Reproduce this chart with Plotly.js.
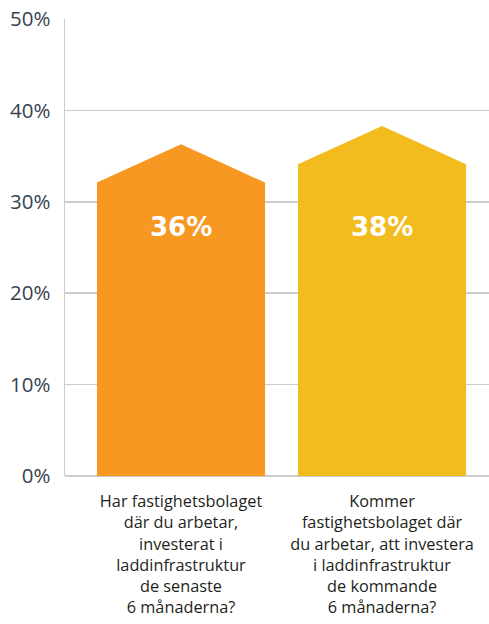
<!DOCTYPE html>
<html>
<head>
<meta charset="utf-8">
<script src="https://cdn.plot.ly/plotly-3.0.1.min.js"></script>
<style>html,body{margin:0;padding:0;background:#fff;}#chart{width:489px;height:624px;}</style>
</head>
<body>
<div id="chart"></div>
<script>
const categories = [
  "Har fastighetsbolaget<br>där du arbetar,<br>investerat i<br>laddinfrastruktur<br>de senaste<br>6 månaderna?",
  "Kommer<br>fastighetsbolaget där<br>du arbetar, att investera<br>i laddinfrastruktur<br>de kommande<br>6 månaderna?"
];
const values = [36, 38];
const colors = ["#F79823", "#F2BC1E"];
const yTickVals = [0, 10, 20, 30, 40, 50];
const yTickText = ["0%", "10%", "20%", "30%", "40%", "50%"];

const halfWidth = 0.418;   // bar half-width in category units
const roof = 3.9;          // roof height in axis units
const labelY = 27.2;       // vertical position of the value labels

const traces = values.map((v, i) => ({
  type: "scatter",
  mode: "lines",
  x: [i - halfWidth, i - halfWidth, i, i + halfWidth, i + halfWidth, i - halfWidth],
  y: [0, v - roof, v + 0.3, v - roof, 0, 0],
  fill: "toself",
  fillcolor: colors[i],
  line: {width: 0, color: colors[i]},
  hoverinfo: "skip",
  showlegend: false
}));

const annotations = values.map((v, i) => ({
  x: i, y: labelY, xref: "x", yref: "y",
  text: "<b>" + v + "%</b>",
  showarrow: false,
  font: {family: "DejaVu Sans", size: 26, color: "#ffffff"}
}));

const layout = {
  width: 489, height: 624,
  margin: {l: 65, r: 0, t: 19, b: 148},
  paper_bgcolor: "#ffffff",
  plot_bgcolor: "#ffffff",
  showlegend: false,
  xaxis: {
    range: [-0.577, 1.532],
    tickvals: categories.map((c, i) => i),
    ticktext: categories,
    showgrid: false,
    zeroline: false,
    showline: false,
    ticks: "",
    ticklabelstandoff: 14,
    tickfont: {family: "Open Sans", size: 16.3, color: "#231f20"},
    fixedrange: true
  },
  yaxis: {
    range: [0, 50],
    tickvals: yTickVals,
    ticktext: yTickText,
    showgrid: true,
    gridcolor: "#cccccc",
    gridwidth: 1.5,
    zeroline: true,
    zerolinecolor: "#cccccc",
    zerolinewidth: 1.5,
    showline: true,
    linecolor: "#cccccc",
    linewidth: 1.5,
    ticks: "",
    ticklabelstandoff: 9,
    tickfont: {family: "Open Sans", size: 20.5, color: "#37424f"},
    fixedrange: true
  },
  annotations: annotations
};

Plotly.newPlot("chart", traces, layout, {displayModeBar: false, staticPlot: true});
</script>
</body>
</html>
